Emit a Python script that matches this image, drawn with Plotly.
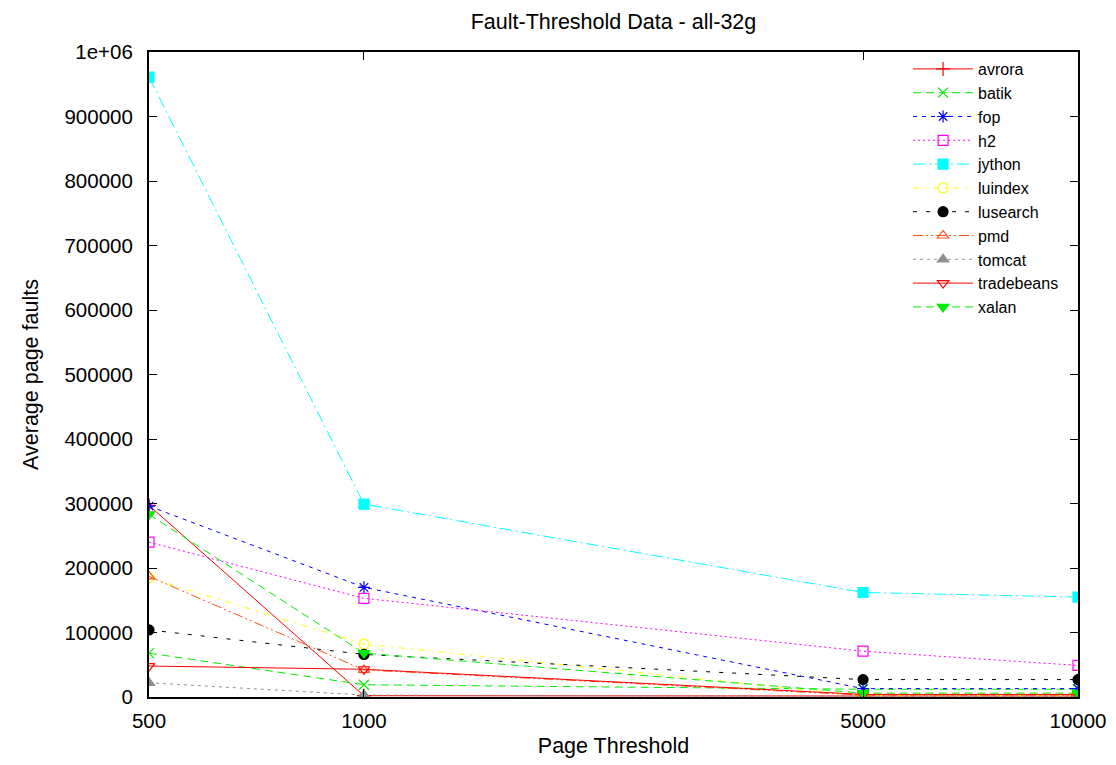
import plotly.graph_objects as go

thresholds = [500, 1000, 5000, 10000]
tick_labels = ["500", "1000", "5000", "10000"]

avrora = [297000, 2000, 1500, 1500]
batik = [68000, 19000, 12000, 12000]
fop = [296000, 170000, 13000, 13000]
h2 = [240000, 153000, 71000, 49000]
jython = [961000, 299000, 162000, 155000]
luindex = [185000, 82000, 2000, 2000]
lusearch = [104000, 66000, 27000, 27000]
pmd = [187000, 42000, 3000, 3000]
tomcat = [22000, 3000, 1000, 1000]
tradebeans = [48000, 43000, 4000, 4000]
xalan = [283000, 68000, 6000, 6000]

y_ticks = [0, 100000, 200000, 300000, 400000, 500000, 600000, 700000, 800000, 900000, 1000000]
y_tick_labels = ["0", "100000", "200000", "300000", "400000", "500000", "600000",
                 "700000", "800000", "900000", "1e+06"]

series = [
    ("avrora", avrora, "#ff0000", "solid", "cross-thin"),
    ("batik", batik, "#00ee00", "8px,5px", "x-thin"),
    ("fop", fop, "#0000ff", "4px,5px", "asterisk"),
    ("h2", h2, "#ff00ff", "2px,3px", "square-open"),
    ("jython", jython, "#00ffff", "12px,4px,2px,4px", "square"),
    ("luindex", luindex, "#ffff00", "6px,6px,2px,6px", "circle-open"),
    ("lusearch", lusearch, "#000000", "4px,9px", "circle"),
    ("pmd", pmd, "#ff5020", "10px,3px,2px,3px,2px,3px", "triangle-up-open"),
    ("tomcat", tomcat, "#909090", "3px,4px", "triangle-up"),
    ("tradebeans", tradebeans, "#ff0000", "solid", "triangle-down-open"),
    ("xalan", xalan, "#00ee00", "8px,5px", "triangle-down"),
]

fig = go.Figure()
for name, vals, color, dash, sym in series:
    fig.add_trace(go.Scatter(
        x=thresholds, y=vals, name=name, mode="lines+markers",
        line=dict(color=color, width=1, dash=dash),
        marker=dict(symbol=sym, size=10, color=color,
                    line=dict(color=color, width=1.2)),
    ))

font_family = "Liberation Sans, Arial, sans-serif"
fig.update_layout(
    width=1100, height=750,
    margin=dict(l=141, r=30, t=44, b=61, autoexpand=False),
    paper_bgcolor="white", plot_bgcolor="white",
    font=dict(family=font_family, size=20, color="#000000"),
    title=dict(text="Fault-Threshold Data - all-32g", x=0.5, xref="paper",
               xanchor="center", y=0.992, yanchor="top", font=dict(size=21.5)),
    showlegend=True,
    legend=dict(x=0.985, xanchor="right", y=1.0, yanchor="top",
                bgcolor="rgba(255,255,255,0)", font=dict(size=16),
                itemwidth=60, tracegroupgap=0),
    xaxis=dict(
        type="log", range=[2.69897, 4.0], automargin=False,
        tickvals=thresholds, ticktext=tick_labels,
        tickfont=dict(size=20.5), ticklabelstandoff=4,
        ticks="inside", ticklen=8, tickcolor="black",
        showline=True, linecolor="black", linewidth=2, mirror="ticks",
        showgrid=False, zeroline=False,
        title=dict(text="Page Threshold", standoff=15, font=dict(size=21.5)),
    ),
    yaxis=dict(
        range=[0, 1000000], automargin=False,
        tickvals=y_ticks, ticktext=y_tick_labels,
        tickfont=dict(size=20.5), ticklabelstandoff=10,
        ticks="inside", ticklen=8, tickcolor="black",
        showline=True, linecolor="black", linewidth=2, mirror="ticks",
        showgrid=False, zeroline=False,
        title=dict(text="Average page faults", standoff=20, font=dict(size=21.5)),
    ),
)

fig.write_html("out.html")
